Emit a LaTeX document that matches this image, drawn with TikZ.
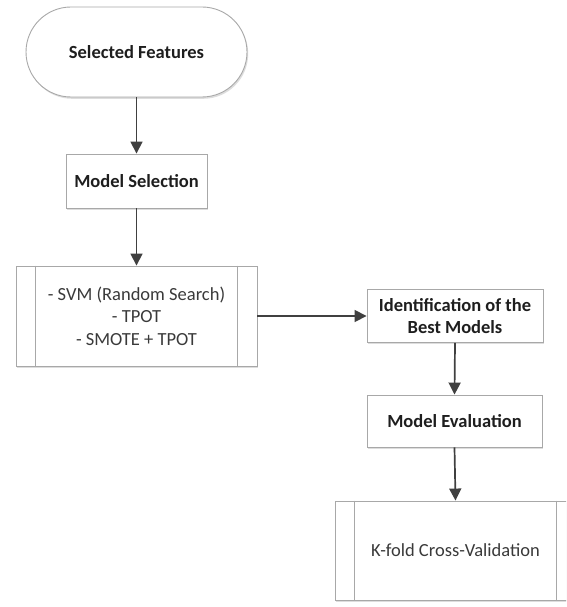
\documentclass[tikz,border=0pt]{standalone}
\usepackage{fontspec}
\setmainfont{Carlito}
\usetikzlibrary{arrows.meta,shadows}
\definecolor{boxline}{HTML}{A8A8A8}
\definecolor{arrowcol}{HTML}{404040}
\definecolor{txtbold}{HTML}{1E1E1E}
\definecolor{txtreg}{HTML}{3A3A3A}
\tikzset{
  base/.style={draw=boxline, line width=0.9pt, fill=white,
    drop shadow={shadow xshift=1.2pt, shadow yshift=-1.8pt, fill=black!22, opacity=0.6},
    font=\fontsize{18.5}{22.5}\selectfont, align=center, inner sep=0pt},
  terminal/.style={base, rounded corners=45pt, minimum width=221pt, minimum height=90pt, font=\fontsize{18.5}{22.5}\selectfont\bfseries, text=txtbold},
  procbox/.style={base, minimum width=#1, minimum height=53pt, font=\fontsize{18.5}{22.5}\selectfont\bfseries, text=txtbold},
  predef/.style={base, minimum width=241pt, minimum height=100pt, text=txtreg},
  flow/.style={draw=arrowcol, line width=1.7pt, -{Triangle[length=12pt,width=12pt]}},
  inner/.style={draw=boxline, line width=0.9pt}
}
\begin{document}
\begin{tikzpicture}[x=1pt,y=-1pt]
\useasboundingbox (0,0) rectangle (566,607);
\fill[white] (0,0) rectangle (566,607);
\begin{scope}
\clip (0,0) rectangle (566,607);
\node[terminal] (sf) at (136.5,52) {Selected Features};
\node[procbox=141pt, minimum height=54pt] (ms) at (136.5,181) {Model Selection};
\node[predef] (p1) at (136.5,316) {- SVM (Random Search)\\- TPOT\\- SMOTE + TPOT};
\draw[inner] ([xshift=20pt]p1.north west) -- ([xshift=20pt]p1.south west);
\draw[inner] ([xshift=-20pt]p1.north east) -- ([xshift=-20pt]p1.south east);
\node[procbox=176pt] (ib) at (455,316) {Identification of the\\Best Models};
\node[procbox=175pt, minimum height=52pt] (me) at (454.5,421) {Model Evaluation};
\node[predef, minimum height=99pt] (kf) at (455.5,550.5) {K-fold Cross-Validation};
\draw[inner] ([xshift=20pt]kf.north west) -- ([xshift=20pt]kf.south west);
\draw[inner] ([xshift=-20pt]kf.north east) -- ([xshift=-20pt]kf.south east);
\draw[flow] (sf.south) -- (ms.north);
\draw[flow] (ms.south) -- (p1.north);
\draw[flow] (p1.east) -- (ib.west);
\draw[flow] (ib.south) -- (me.north);
\draw[flow] (me.south) -- (kf.north);
\end{scope}
\end{tikzpicture}
\end{document}
